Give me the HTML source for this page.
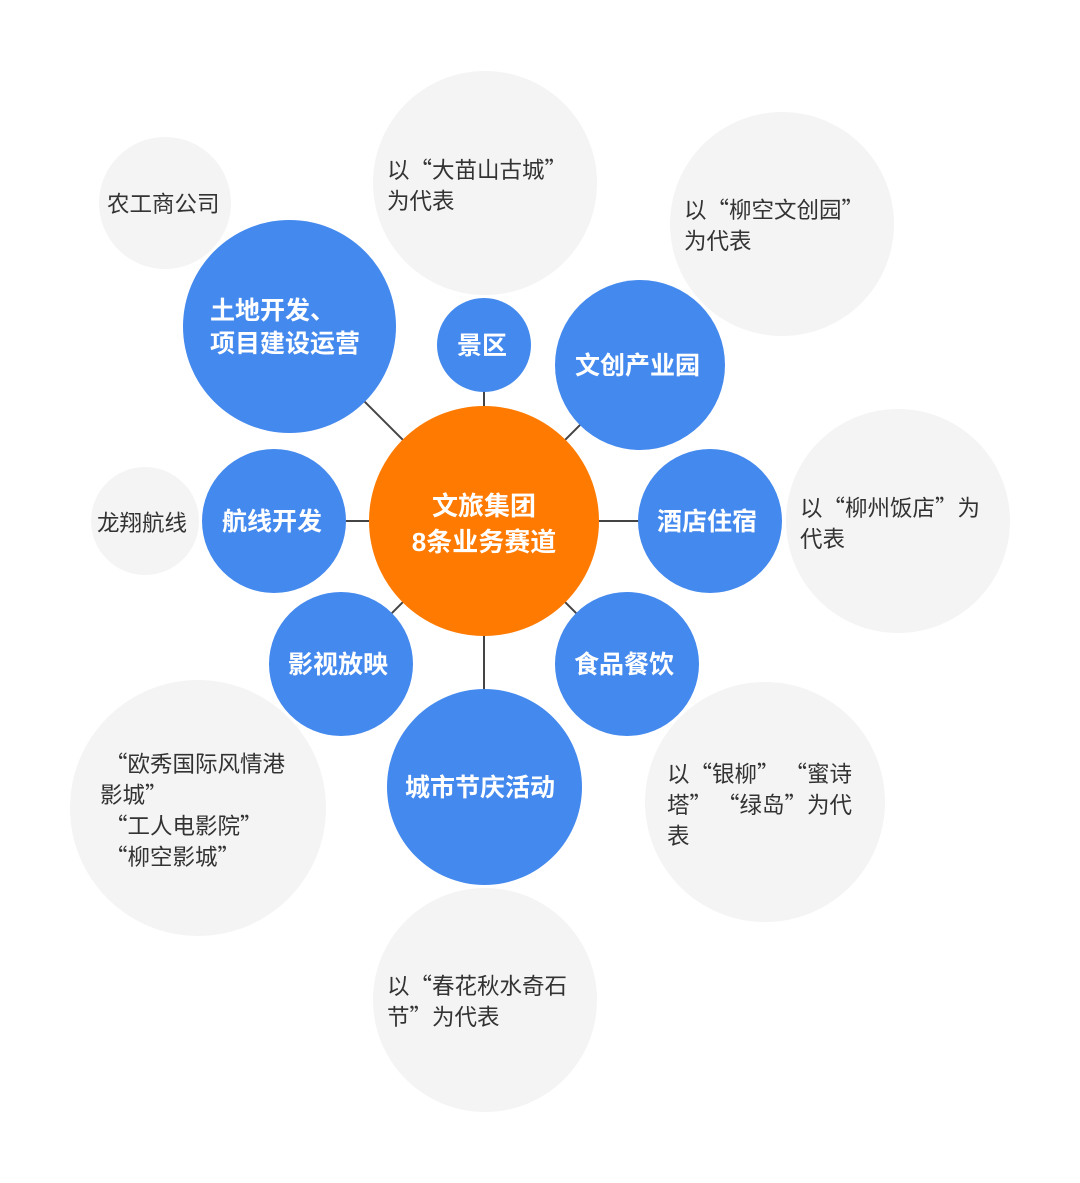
<!DOCTYPE html>
<html><head><meta charset="utf-8"><style>
body{margin:0;width:1080px;height:1183px;background:#fff;position:relative;overflow:hidden;font-family:"Liberation Sans","Noto Sans CJK SC",sans-serif}
.c{position:absolute;border-radius:50%}
.g{background:#f4f4f4}
.b{background:#4489ee}
.t{position:absolute;white-space:nowrap}
.w{color:#fff;font-weight:bold;font-size:25px;line-height:33px}
.k{color:#333;font-size:22.5px;line-height:31px;font-family:"Noto Sans CJK SC",sans-serif}
</style></head><body>
<div class="c g" style="left:99px;top:137px;width:132px;height:132px"></div>
<div class="c g" style="left:373px;top:71px;width:224px;height:224px"></div>
<div class="c g" style="left:670px;top:112px;width:224px;height:224px"></div>
<div class="c g" style="left:786px;top:409px;width:224px;height:224px"></div>
<div class="c g" style="left:91px;top:467px;width:108px;height:108px"></div>
<div class="c g" style="left:70px;top:680px;width:256px;height:256px"></div>
<div class="c g" style="left:645px;top:682px;width:240px;height:240px"></div>
<div class="c g" style="left:373px;top:888px;width:224px;height:224px"></div>
<svg style="position:absolute;left:0;top:0" width="1080" height="1183"><g stroke="#444" stroke-width="2">
<line x1="484" y1="521" x2="289" y2="326"/><line x1="484" y1="521" x2="484" y2="345"/><line x1="484" y1="521" x2="640" y2="365"/><line x1="484" y1="521" x2="710" y2="521"/><line x1="484" y1="521" x2="274" y2="521"/><line x1="484" y1="521" x2="341" y2="664"/><line x1="484" y1="521" x2="627" y2="664"/><line x1="484" y1="521" x2="484" y2="787"/>
</g></svg>
<div class="c b" style="left:183px;top:220px;width:213px;height:213px"></div>
<div class="c b" style="left:437px;top:298px;width:94px;height:94px"></div>
<div class="c b" style="left:555px;top:280px;width:170px;height:170px"></div>
<div class="c b" style="left:638px;top:449px;width:144px;height:144px"></div>
<div class="c b" style="left:202px;top:449px;width:144px;height:144px"></div>
<div class="c b" style="left:269px;top:592px;width:144px;height:144px"></div>
<div class="c b" style="left:555px;top:592px;width:144px;height:144px"></div>
<div class="c b" style="left:387px;top:689px;width:195px;height:196px"></div>
<div class="c" style="left:369px;top:406px;width:230px;height:230px;background:#ff7a00"></div>
<div class="t w" style="left:210px;top:295px">土地开发、<br>项目建设运营</div>
<div class="t w" style="left:457px;top:330px">景区</div>
<div class="t w" style="left:575px;top:350px">文创产业园</div>
<div class="t w" style="left:657px;top:506px">酒店住宿</div>
<div class="t w" style="left:222px;top:506px">航线开发</div>
<div class="t w" style="left:288px;top:649px">影视放映</div>
<div class="t w" style="left:574px;top:649px">食品餐饮</div>
<div class="t w" style="left:405px;top:772px">城市节庆活动</div>
<div class="t w" style="left:394px;top:488px;font-size:26px;line-height:36px;text-align:center;width:180px">文旅集团<br>8条业务赛道</div>
<div class="t k" style="left:107px;top:188px">农工商公司</div>
<div class="t k" style="left:387px;top:154px">以“大苗山古城”<br>为代表</div>
<div class="t k" style="left:684px;top:194px">以“柳空文创园”<br>为代表</div>
<div class="t k" style="left:800px;top:492px">以“柳州饭店”为<br>代表</div>
<div class="t k" style="left:97px;top:507px">龙翔航线</div>
<div class="t k" style="left:100px;top:748px">&nbsp;“欧秀国际风情港<br>影城”<br>&nbsp;“工人电影院”<br>&nbsp;“柳空影城”</div>
<div class="t k" style="left:667px;top:758px">以“银柳”&nbsp;“蜜诗<br>塔”&nbsp;“绿岛”为代<br>表</div>
<div class="t k" style="left:387px;top:970px">以“春花秋水奇石<br>节”为代表</div>
</body></html>
